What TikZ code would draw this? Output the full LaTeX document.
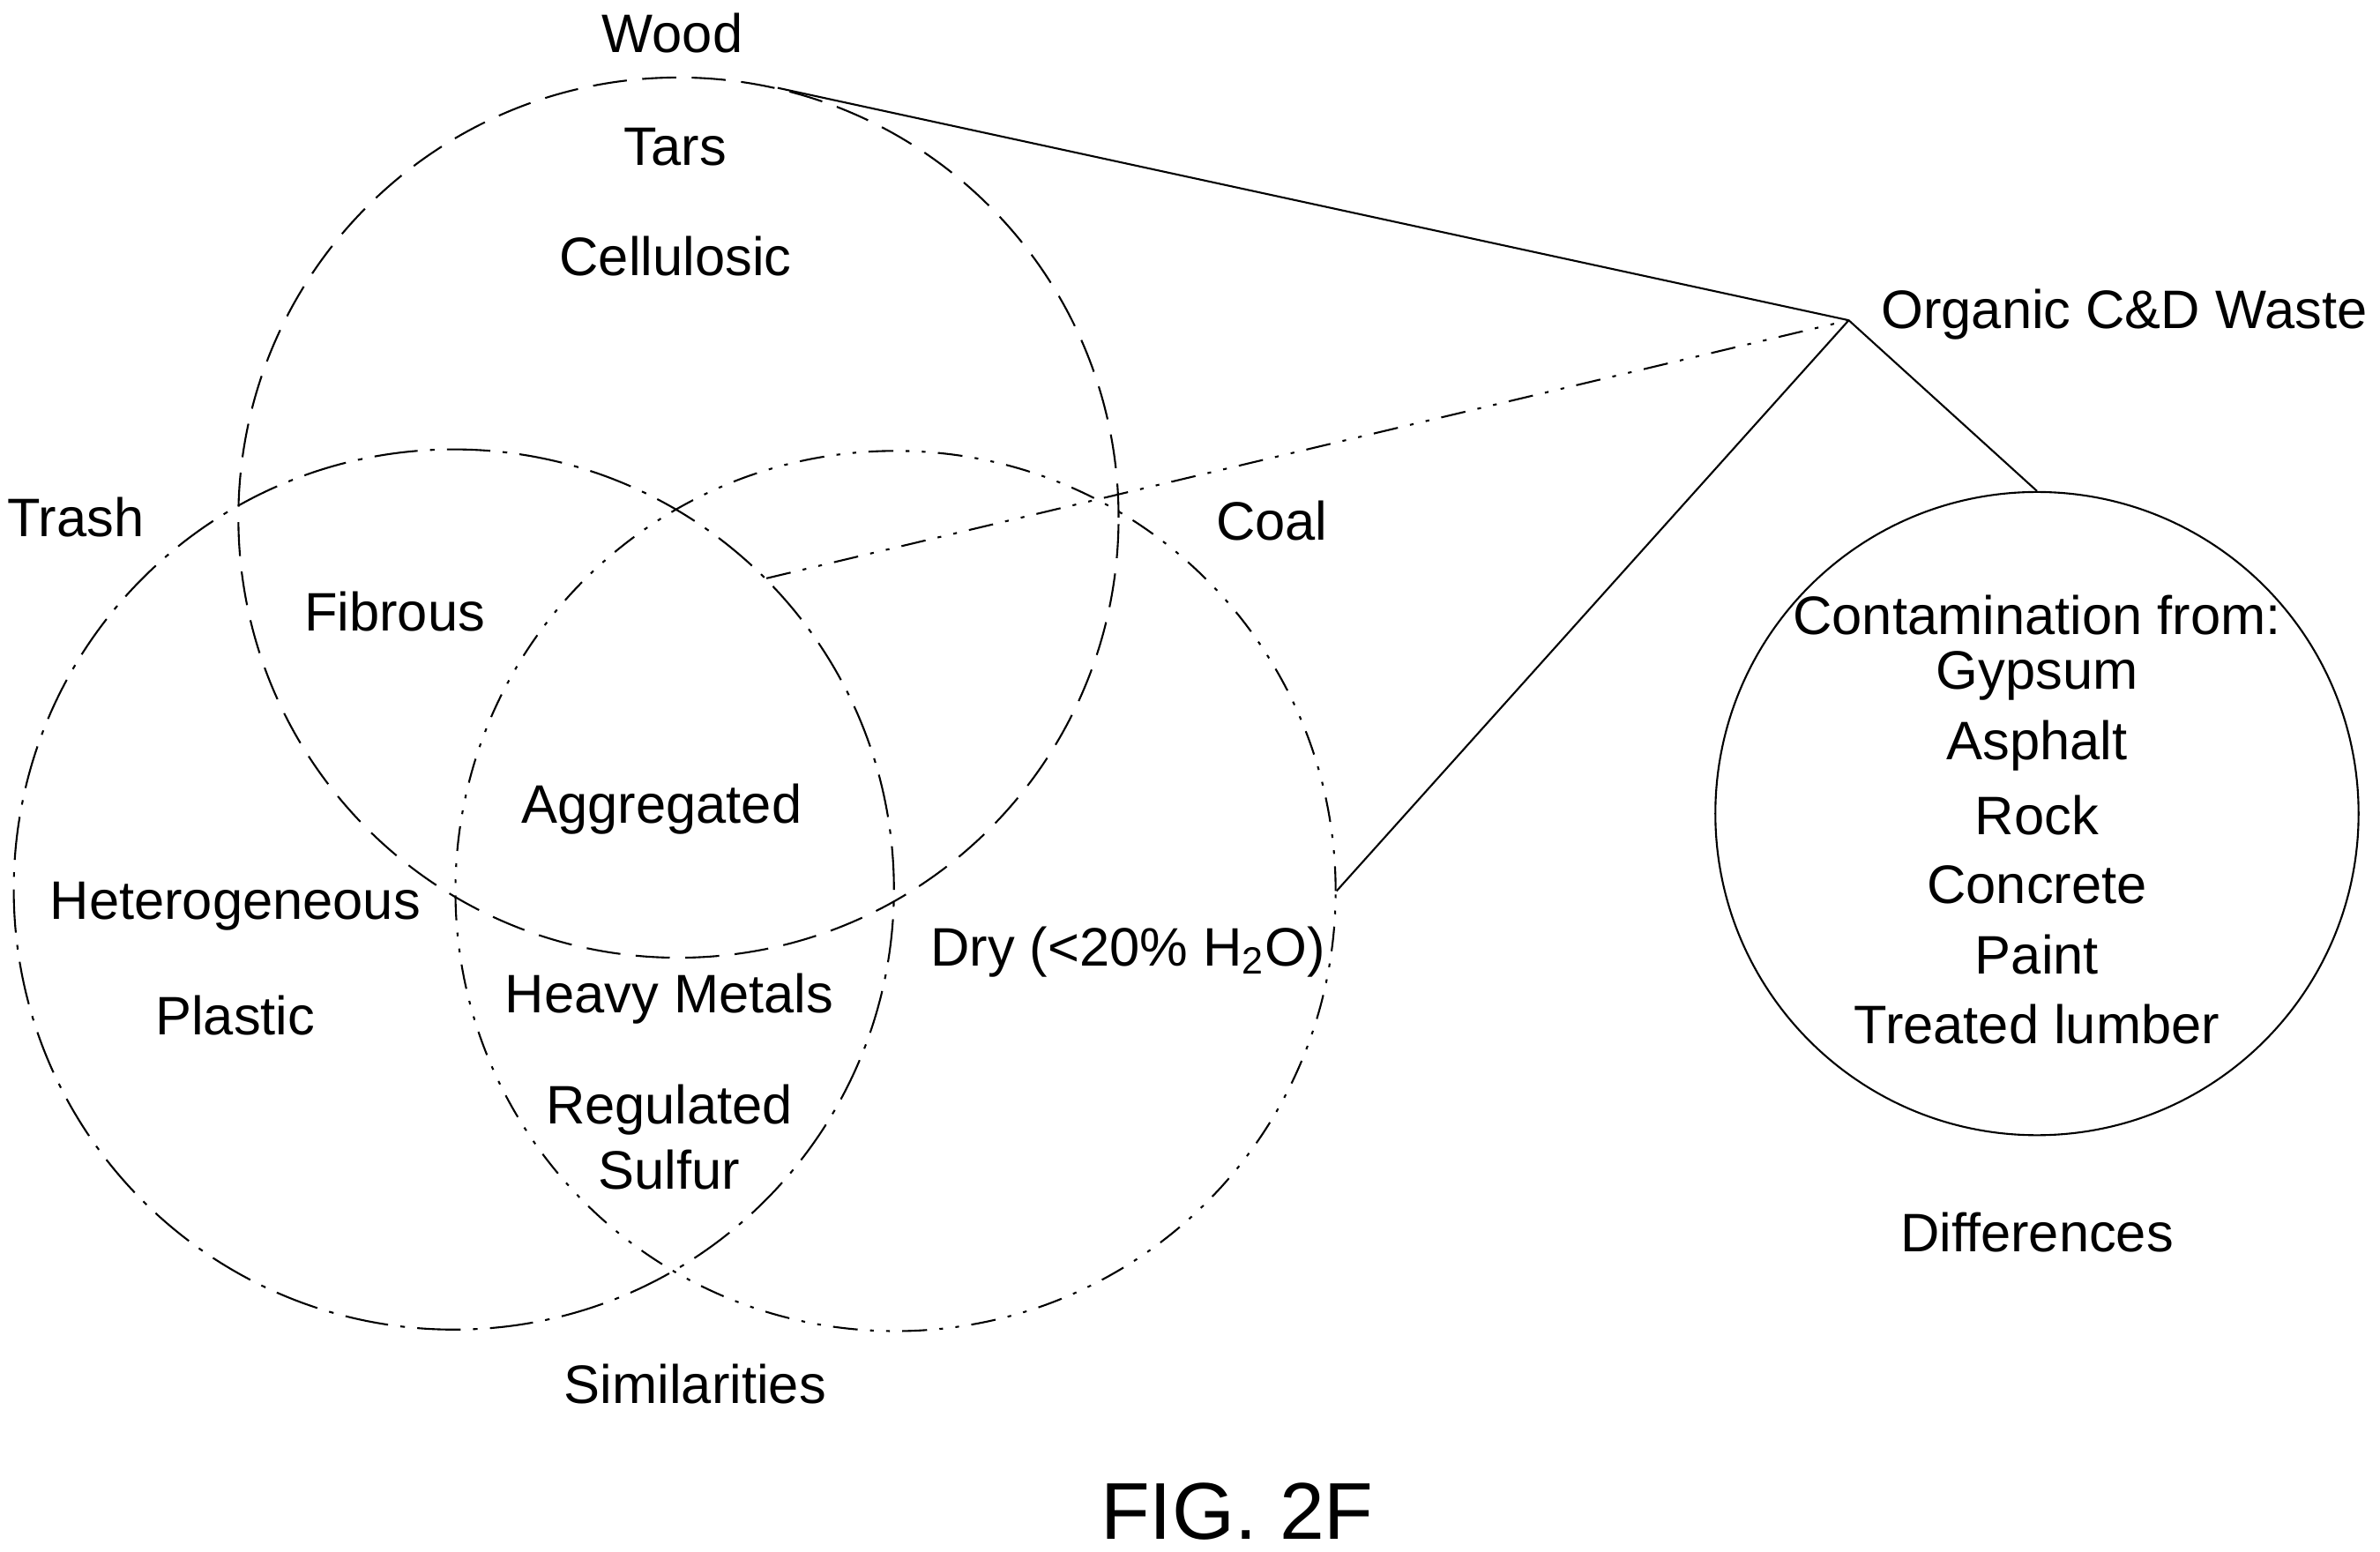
\documentclass[tikz,border=0pt]{standalone}
\usepackage{fontspec}
\setmainfont{Liberation Sans}
\begin{document}
\begin{tikzpicture}[x=0.01722cm,y=-0.01722cm,line width=0.6pt,
    lbl/.style={font=\fontsize{17.5}{21}\selectfont},
    ring/.style={circle,draw,inner sep=0pt,minimum size=9.99cm},
    woodline/.style={dash pattern=on 11pt off 5pt},
    trashline/.style={dash pattern=on 14pt off 4pt on 1.5pt off 4pt},
    coalline/.style={dash pattern=on 8pt off 4pt on 1.2pt off 4pt on 1.2pt off 4pt}]
    \useasboundingbox (0,0) rectangle (1568,1022);
    %
    \node[ring,woodline] (wood) at (447,341) {};
    \node[ring,trashline] (trash) at (299,586) {};
    \node[ring,coalline] (coal) at (590,587) {};
    \node[circle,draw,inner sep=0pt,minimum size=7.3cm] (diff) at (1342,536) {};
    %
    \coordinate (hub) at (1218,211);
    \coordinate (mid) at (505,381);
    \draw (wood.77) -- (hub);
    \draw[coalline] (mid) -- (hub);
    \draw (coal.east) -- (hub);
    \draw (diff.north) -- (hub);
    %
    \node[lbl] (woodlbl) at (443,22) {Wood};
    \node[lbl] (tars) at (445,97) {Tars};
    \node[lbl] (cell) at (445,169) {Cellulosic};
    \node[lbl] (trashlbl) at (50,341) {Trash};
    \node[lbl] (fib) at (260,403) {Fibrous};
    \node[lbl] (coallbl) at (838,343) {Coal};
    \node[lbl] (agg) at (436,533) {Aggregated};
    \node[lbl] (het) at (155,597) {Heterogeneous};
    \node[lbl] (plast) at (155,669) {Plastic};
    \node[lbl] (heavy) at (441,658) {Heavy Metals};
    \node[lbl,align=center] (sulf) at (441,749) {Regulated\\Sulfur};
    \node[lbl] (dry) at (743,627) {Dry (<20\% H\textsubscript{2}O)};
    \node[lbl] (sim) at (458,912) {Similarities};
    \node[lbl,anchor=west] (org) at (1232,207) {Organic C\&D Waste};
    \node[lbl,inner sep=1pt] (contam) at (1342,405) {Contamination from:};
    \foreach \t [count=\i] in {Gypsum,Asphalt,Rock,Concrete,Paint,Treated lumber}
      \node[lbl,inner sep=1pt] (c\i) at (1342,{399+46*\i}) {\t};
    \node[lbl] (difflbl) at (1342,812) {Differences};
    \node[font=\fontsize{26}{31}\selectfont] (fig) at (815,996) {FIG. 2F};
\end{tikzpicture}
\end{document}
